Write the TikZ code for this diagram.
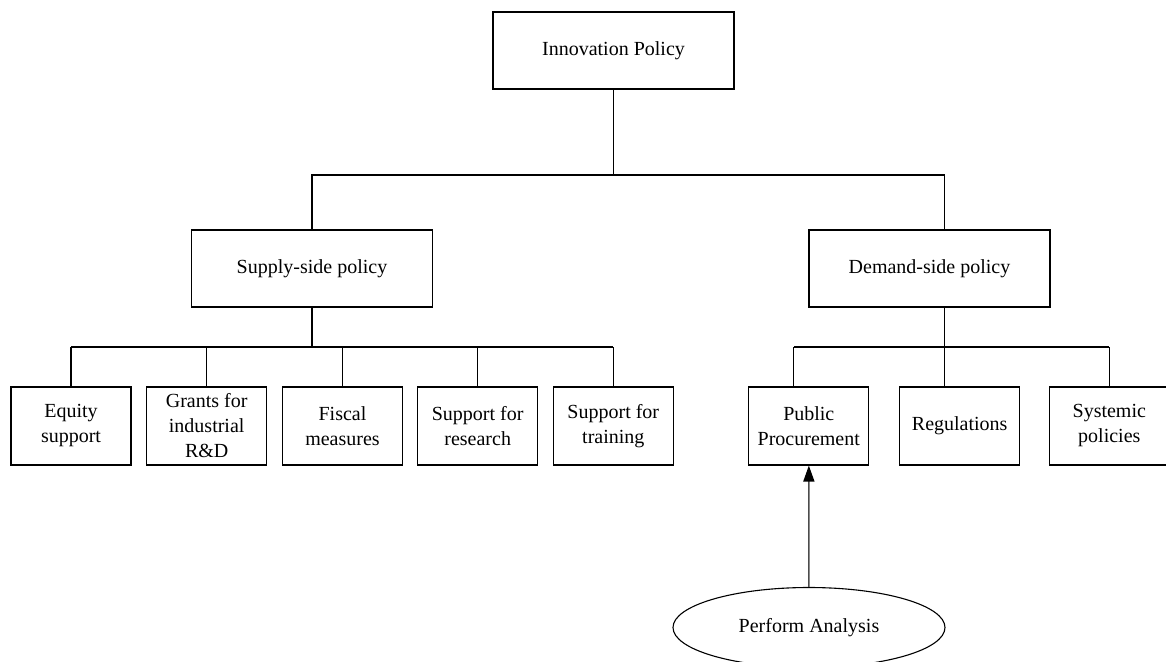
\documentclass[tikz,border=0pt]{standalone}
\usepackage{fontspec}
\setmainfont{Liberation Serif}
\usetikzlibrary{shapes.geometric,arrows.meta}
\tikzset{
    policy/.style={draw, line width=1.1pt, minimum width=241pt, minimum height=77pt, inner sep=0pt},
    measure/.style={draw, line width=1.1pt, minimum width=120pt, minimum height=78pt, inner sep=0pt, align=center},
    task/.style={draw, ellipse, line width=1.1pt, minimum width=272pt, minimum height=80pt, inner sep=0pt},
}
\begin{document}
\begin{tikzpicture}[x=1pt, y=-1pt, font=\fontsize{20}{25}\selectfont, line width=1.1pt]
    \useasboundingbox (0, 0) rectangle (1166, 661);

    \node[policy] (inno) at (613.5, 50.5) {Innovation Policy};
    \node[policy] (supply) at (312, 268.5) {Supply-side policy};
    \node[policy] (demand) at (929.5, 268.5) {Demand-side policy};

    \node[measure] (equity) at (71, 426) {Equity\\support};
    \node[measure] (grants) at (206.7, 426) {Grants for\\industrial\\R\&D};
    \node[measure] (fiscal) at (342.5, 426) {Fiscal\\measures};
    \node[measure] (research) at (477.7, 426) {Support for\\research};
    \node[measure] (training) at (613.3, 426) {Support for\\training};

    \node[measure] (pp) at (808.8, 426) {Public\\Procurement};
    \node[measure] (reg) at (959.7, 426) {Regulations};
    \node[measure] (sys) at (1109.3, 426) {Systemic\\policies};

    \node[task] (analysis) at (809, 627.5) {Perform Analysis};

    \coordinate (topbar) at (0, 175);
    \coordinate (sbar) at (0, 347);
    \coordinate (dbar) at (0, 347);
    \coordinate (dtop) at ([xshift=15pt]demand.north);
    \coordinate (dlow) at ([xshift=15pt]demand.south);
    \coordinate (pplink) at ([xshift=-15pt]pp.north);

    % top level
    \draw (inno.south) -- (inno.south |- topbar);
    \draw (supply.north) -- (supply.north |- topbar) -- (dtop |- topbar) -- (dtop);

    % supply side
    \draw (supply.south) -- (supply.south |- sbar);
    \draw (equity.north |- sbar) -- (training.north |- sbar);
    \foreach \m in {equity, grants, fiscal, research, training}
        \draw (\m.north) -- (\m.north |- sbar);

    % demand side
    \draw (dlow) -- (dlow |- reg.north);
    \draw (pplink |- dbar) -- (sys.north |- dbar);
    \draw (pplink) -- (pplink |- dbar);
    \draw (sys.north) -- (sys.north |- dbar);

    \draw[draw=black!70, line width=1.5pt, -{Triangle[length=16pt, width=11pt, color=black]}] (analysis) -- (pp);
\end{tikzpicture}
\end{document}
